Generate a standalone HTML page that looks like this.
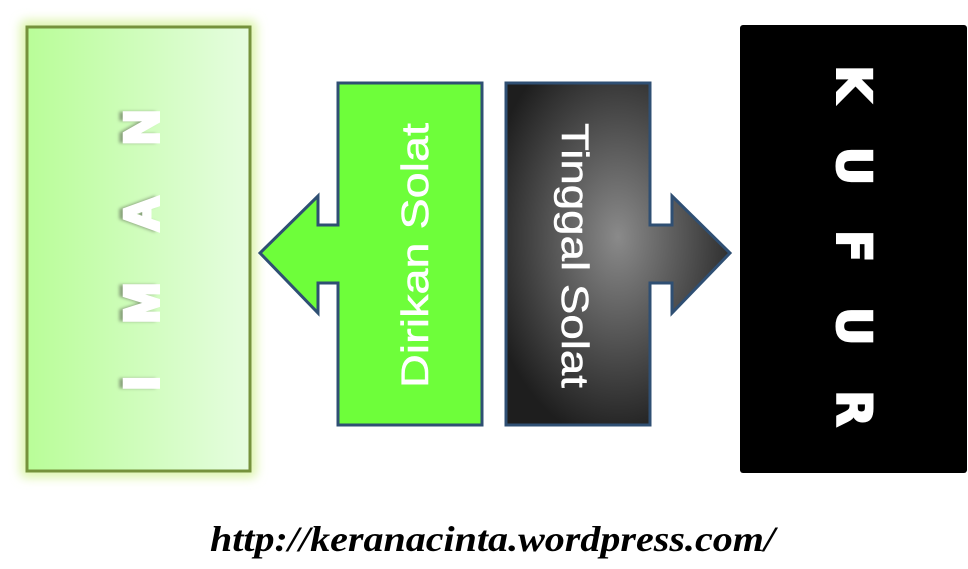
<!DOCTYPE html>
<html><head><meta charset="utf-8"><style>
html,body{margin:0;padding:0;background:#fff;width:968px;height:569px;overflow:hidden}
</style></head><body>
<svg width="968" height="569" viewBox="0 0 968 569" xmlns="http://www.w3.org/2000/svg">
<defs>
<linearGradient id="ig" x1="0" x2="1" y1="0" y2="0">
<stop offset="0" stop-color="#b9fd98"/><stop offset="1" stop-color="#e6fde0"/></linearGradient>
<radialGradient id="dg" cx="0.5" cy="0.45" r="0.6">
<stop offset="0" stop-color="#8a8a8a"/><stop offset="1" stop-color="#1e1e1e"/></radialGradient>
<filter id="glow" x="-20%" y="-20%" width="140%" height="140%"><feGaussianBlur stdDeviation="5"/></filter>
<filter id="bl"><feGaussianBlur stdDeviation="1.5"/></filter>
</defs>
<rect x="20" y="20" width="237" height="458" rx="6" fill="#dff5b0" filter="url(#glow)"/>
<rect x="27" y="27" width="223" height="444" fill="url(#ig)" stroke="#76923c" stroke-width="3"/>
<text transform="translate(154,390) rotate(-90)" font-family="Liberation Sans, sans-serif" font-weight="bold" font-size="48" fill="#6a7a60" stroke="#6a7a60" stroke-width="3" opacity="0.7" filter="url(#bl)" textLength="280" lengthAdjust="spacing">I M A N</text>
<text transform="translate(158,390) rotate(-90)" font-family="Liberation Sans, sans-serif" font-weight="bold" font-size="48" fill="#fff" stroke="#fff" stroke-width="4" textLength="280" lengthAdjust="spacing">I M A N</text>

<path d="M338,83 H482 V425 H338 V283 H318 V313 L260,253 L318,196 V225 H338 Z" fill="#6efe3a" stroke="#2f4f73" stroke-width="3" stroke-linejoin="miter"/>
<text transform="translate(428,388) rotate(-90)" font-family="Liberation Sans, sans-serif" font-size="38" fill="#fff" stroke="#fff" stroke-width="0.5" textLength="265" lengthAdjust="spacingAndGlyphs">Dirikan  Solat</text>

<path d="M506,83 H650 V225 H672 V196 L730,253 L672,313 V283 H650 V425 H506 Z" fill="url(#dg)" stroke="#2f4f73" stroke-width="3"/>
<text transform="translate(562,123) rotate(90)" font-family="Liberation Sans, sans-serif" font-size="38" fill="#fff" stroke="#fff" stroke-width="0.5" textLength="265" lengthAdjust="spacingAndGlyphs">Tinggal  Solat</text>

<rect x="740" y="25" width="227" height="448" rx="3" fill="#000"/>
<text transform="translate(837,65) rotate(90)" font-family="DejaVu Sans, sans-serif" font-weight="bold" font-size="48" fill="#fff" stroke="#fff" stroke-width="2" textLength="362" lengthAdjust="spacing">K U F U R</text>

<text x="210" y="551" font-family="Liberation Serif, serif" font-style="italic" font-weight="bold" font-size="36" fill="#000" textLength="565" lengthAdjust="spacingAndGlyphs">http://keranacinta.wordpress.com/</text>
</svg>
</body></html>
